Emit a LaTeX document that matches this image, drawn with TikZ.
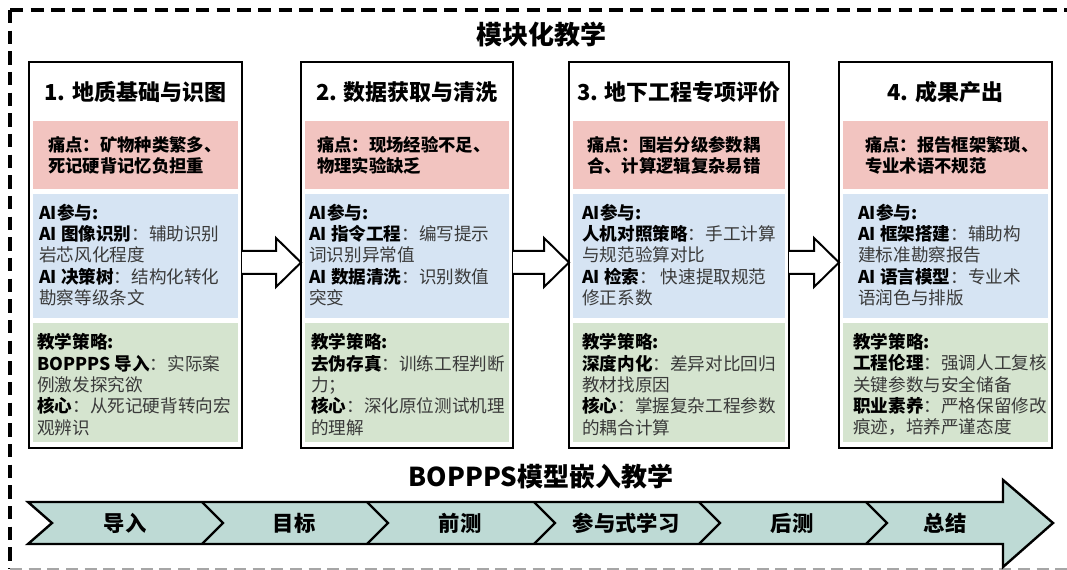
\documentclass[tikz,border=0pt]{standalone}
\usepackage{fontspec}
\setmainfont{Noto Sans CJK SC}
\usetikzlibrary{calc}
\definecolor{pinkband}{RGB}{242,196,192}
\definecolor{blueband}{RGB}{214,228,243}
\definecolor{greenband}{RGB}{213,228,207}
\definecolor{tealband}{RGB}{190,218,213}
\definecolor{bodytext}{RGB}{58,58,58}
\newcommand\hd[1]{\textbf{\color{black}#1}}
\begin{document}
\begin{tikzpicture}[x=0.75pt,y=-0.75pt,
  colbox/.style={draw=black,fill=white,line width=2pt,outer sep=0pt,inner sep=0pt},
  coltitle/.style={font=\bfseries\fontsize{16.5}{20}\selectfont,inner sep=0pt},
  bandtext/.style={anchor=west,align=left,inner sep=0pt,text=bodytext,font=\fontsize{13.2}{16}\selectfont},
  paintext/.style={anchor=west,align=left,inner sep=0pt,text=black,font=\bfseries\fontsize{13}{16}\selectfont},
  blockarrow/.style={draw=black,fill=white,line width=1.5pt,line join=miter},
  bigtitle/.style={font=\bfseries\fontsize{19.5}{23}\selectfont,inner sep=0pt},
  steplabel/.style={font=\bfseries\fontsize{16}{19}\selectfont,inner sep=0pt},
  frameline/.style={line width=2.3pt,dash pattern=on 10pt off 5.5pt}
]
\useasboundingbox (0,0) rectangle (1067,570);
\clip (0,0) rectangle (1067,570);

% dashed frame
\draw[frameline] (10,10) -- (1080,10);
\draw[frameline] (10,10) -- (10,569);
\draw[line width=1.5pt,dash pattern=on 9pt off 5pt,black!35] (10,569) -- (1067,569);

% titles
\node[bigtitle] (title) at (541,35) {模块化教学};
\node[bigtitle] (boppps) at (541,477) {BOPPPS模型嵌入教学};

% column boxes
\node[colbox,minimum width={213*0.75pt},minimum height={386*0.75pt}] (b1) at (135.5,255) {};
\node[colbox,minimum width={212*0.75pt},minimum height={386*0.75pt}] (b2) at (407,255) {};
\node[colbox,minimum width={220*0.75pt},minimum height={386*0.75pt}] (b3) at (679,255) {};
\node[colbox,minimum width={213*0.75pt},minimum height={386*0.75pt}] (b4) at (945.5,255) {};

\foreach \b in {b1,b2,b3,b4}{
  \fill[pinkband] ($(\b.north west)+(4,59)$) rectangle ($(\b.north east)+(-4,127)$);
  \fill[blueband] ($(\b.north west)+(4,132)$) rectangle ($(\b.north east)+(-4,256)$);
  \fill[greenband] ($(\b.north west)+(4,261)$) rectangle ($(\b.north east)+(-4,380)$);
}

% arrows between boxes
\foreach \a/\b in {b1/b2,b2/b3,b3/b4}{
  \draw[blockarrow] ($(\a.east)+(0,-4)$) -- ($(\b.west)+(-25,-4)$) -- ($(\b.west)+(-25,-17)$)
    -- ($(\b.west)+(0,7.5)$) -- ($(\b.west)+(-25,32)$) -- ($(\b.west)+(-25,19)$) -- ($(\a.east)+(0,19)$);
}

% box 1
\node[coltitle] (t1) at (135.5,92) {1. 地质基础与识图};
\node[paintext] (p1) at (48,155.5) {痛点：矿物种类繁多、\\死记硬背记忆负担重};
\node[bandtext] (a1) at (39,255) {\hd{AI参与:}\\\hd{AI 图像识别}：辅助识别\\岩芯风化程度\\\hd{AI 决策树}：结构化转化\\勘察等级条文};
\node[bandtext] (s1) at (37,384.5) {\hd{教学策略:}\\\hd{BOPPPS 导入}：实际案\\例激发探究欲\\\hd{核心}：从死记硬背转向宏\\观辨识};

% box 2
\node[coltitle] (t2) at (407,92) {2. 数据获取与清洗};
\node[paintext] (p2) at (317,155.5) {痛点：现场经验不足、\\物理实验缺乏};
\node[bandtext] (a2) at (309,255) {\hd{AI参与:}\\\hd{AI 指令工程}：编写提示\\词识别异常值\\\hd{AI 数据清洗}：识别数值\\突变};
\node[bandtext] (s2) at (311,384.5) {\hd{教学策略:}\\\hd{去伪存真}：训练工程判断\\力；\\\hd{核心}：深化原位测试机理\\的理解};

% box 3
\node[coltitle] (t3) at (679,92) {3. 地下工程专项评价};
\node[paintext] (p3) at (587,155.5) {痛点：围岩分级参数耦\\合、计算逻辑复杂易错};
\node[bandtext] (a3) at (582,255) {\hd{AI参与:}\\\hd{人机对照策略}：手工计算\\与规范验算对比\\\hd{AI 检索}：\ 快速提取规范\\修正系数};
\node[bandtext] (s3) at (582,384.5) {\hd{教学策略:}\\\hd{深度内化}：差异对比回归\\教材找原因\\\hd{核心}：掌握复杂工程参数\\的耦合计算};

% box 4
\node[coltitle] (t4) at (945.5,92) {4. 成果产出};
\node[paintext] (p4) at (865,155.5) {痛点：报告框架繁琐、\\专业术语不规范};
\node[bandtext] (a4) at (858,255) {\hd{AI参与:}\\\hd{AI 框架搭建}：辅助构\\建标准勘察报告\\\hd{AI 语言模型}：专业术\\语润色与排版};
\node[bandtext] (s4) at (853,384.5) {\hd{教学策略:}\\\hd{工程伦理}：强调人工复核\\关键参数与安全储备\\\hd{职业素养}：严格保留修改\\痕迹，培养严谨态度};

% bottom BOPPPS arrow
\draw[fill=tealband,line width=1.8pt,line join=miter]
  (28,502) -- (1003,502) -- (1003,480) -- (1053,523) -- (1003,567) -- (1003,544) -- (28,544) -- (52,523) -- cycle;
\foreach \x in {202,367,534,699,866}
  \draw[line width=1.8pt,line join=miter] (\x,502) -- (\x+21,523) -- (\x,544);

\node[steplabel] (s-b) at (125,523) {导入};
\node[steplabel] (s-o) at (294,523) {目标};
\node[steplabel] (s-p1) at (460,523) {前测};
\node[steplabel] (s-p2) at (626,523) {参与式学习};
\node[steplabel] (s-p3) at (792,523) {后测};
\node[steplabel] (s-s) at (945,523) {总结};
\end{tikzpicture}
\end{document}
